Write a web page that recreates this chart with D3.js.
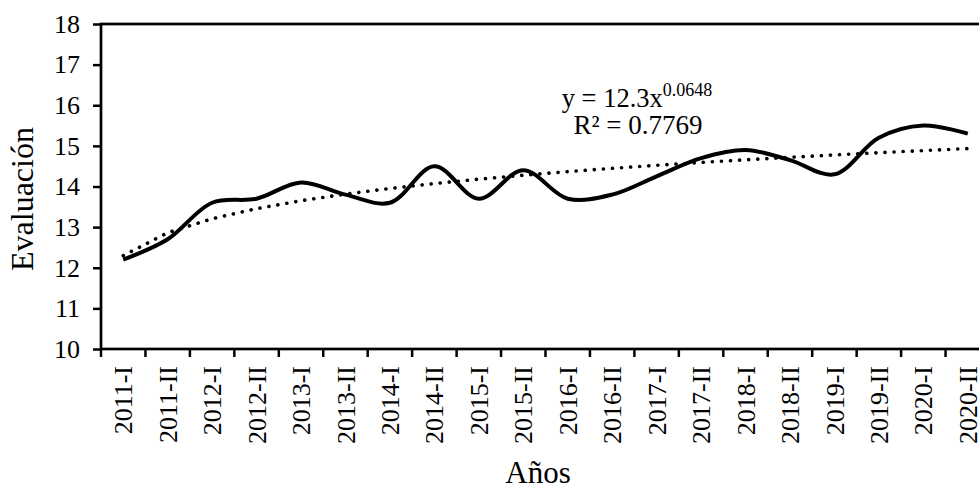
<!DOCTYPE html>
<html>
<head>
<meta charset="utf-8">
<script src="https://cdn.jsdelivr.net/npm/d3@7"></script>
<style>
  body { margin: 0; background: #fff; }
  svg { display: block; font-family: "Liberation Serif", "Times New Roman", serif; }
</style>
</head>
<body>
<svg id="chart" width="979" height="489"></svg>
<script>
//
// Data
//
const categories = ['2011-I', '2011-II', '2012-I', '2012-II', '2013-I', '2013-II', '2014-I', '2014-II',
  '2015-I', '2015-II', '2016-I', '2016-II', '2017-I', '2017-II', '2018-I', '2018-II',
  '2019-I', '2019-II', '2020-I', '2020-II'];
const evaluacion = [12.2, 12.7, 13.6, 13.7, 14.1, 13.8, 13.6, 14.5, 13.7, 14.4,
  13.7, 13.8, 14.25, 14.7, 14.9, 14.65, 14.3, 15.2, 15.5, 15.3];
const yTicks = [10, 11, 12, 13, 14, 15, 16, 17, 18];
const equationText = 'y = 12.3x';
const equationExp = '0.0648';
const r2Text = 'R\u00b2 = 0.7769';

//
// Layout
//
const svg = d3.select('#chart');
const plotLeft = 101, plotRight = 990, plotTop = 24, plotBottom = 349;
const ink = '#000';

const x = d3.scaleBand().domain(categories).range([plotLeft, plotRight]);
const y = d3.scaleLinear().domain([10, 18]).range([plotBottom, plotTop]);
const cx = d => x(d) + x.bandwidth() / 2;

// power trendline fitted on logs (y = a * n^b, n = 1..20)
const logs = evaluacion.map((v, i) => [Math.log(i + 1), Math.log(v)]);
const mx = d3.mean(logs, d => d[0]), my = d3.mean(logs, d => d[1]);
const b = d3.sum(logs, d => (d[0] - mx) * (d[1] - my)) / d3.sum(logs, d => (d[0] - mx) ** 2);
const a = Math.exp(my - b * mx);
const trend = categories.map((c, i) => ({c, v: a * Math.pow(i + 1, b)}));

//
// Axes
//
const yAxis = svg.append('g')
    .attr('transform', `translate(${plotLeft},0)`)
    .call(d3.axisLeft(y).tickValues(yTicks).tickSize(8).tickPadding(13).tickFormat(d3.format('d')));

const xAxis = svg.append('g')
    .attr('transform', `translate(0,${plotBottom})`)
    .call(d3.axisBottom(x).tickSize(0).tickPadding(0));

[yAxis, xAxis].forEach(g => {
  g.select('.domain').remove();
  g.selectAll('line').attr('stroke', ink).attr('stroke-width', 2.5);
  g.selectAll('text').attr('fill', ink).attr('font-size', 26)
      .attr('font-family', '"Liberation Serif", "Times New Roman", serif');
});

xAxis.selectAll('.tick text')
    .attr('text-anchor', 'end')
    .attr('dy', '0.35em')
    .attr('transform', 'translate(0,17) rotate(-90)')
    .attr('y', 0)
    .attr('x', 0);

// category boundary ticks
svg.append('g').selectAll('line')
    .data(categories.concat([null]))
    .join('line')
    .attr('x1', d => d === null ? plotRight : x(d))
    .attr('x2', d => d === null ? plotRight : x(d))
    .attr('y1', plotBottom)
    .attr('y2', plotBottom + 8)
    .attr('stroke', ink)
    .attr('stroke-width', 2.5);

// plot frame
svg.append('rect')
    .attr('x', plotLeft).attr('y', plotTop)
    .attr('width', plotRight - plotLeft).attr('height', plotBottom - plotTop)
    .attr('fill', 'none')
    .attr('stroke', ink)
    .attr('stroke-width', 2.7);

//
// Lines
//
const line = d3.line()
    .x(d => cx(d.c))
    .y(d => y(d.v));

svg.append('path')
    .datum(trend)
    .attr('d', line.curve(d3.curveLinear))
    .attr('fill', 'none')
    .attr('stroke', ink)
    .attr('stroke-width', 3.6)
    .attr('stroke-linecap', 'round')
    .attr('stroke-dasharray', '0.1 9');

svg.append('path')
    .datum(categories.map((c, i) => ({c, v: evaluacion[i]})))
    .attr('d', line.curve(d3.curveCatmullRom.alpha(0.5)))
    .attr('fill', 'none')
    .attr('stroke', ink)
    .attr('stroke-width', 4)
    .attr('stroke-linejoin', 'round');

//
// Labels
//
const eq = svg.append('text')
    .attr('x', 637).attr('y', 106.5)
    .attr('text-anchor', 'middle')
    .attr('font-size', 26.5)
    .attr('fill', ink);
eq.append('tspan').text(equationText);
eq.append('tspan').attr('font-size', 18).attr('dy', -11).text(equationExp);

svg.append('text')
    .attr('x', 638).attr('y', 133.5)
    .attr('text-anchor', 'middle')
    .attr('font-size', 27)
    .attr('fill', ink)
    .text(r2Text);

svg.append('text')
    .attr('x', 538).attr('y', 483)
    .attr('text-anchor', 'middle')
    .attr('font-size', 31)
    .attr('fill', ink)
    .text('Años');

svg.append('text')
    .attr('transform', 'translate(33,199) rotate(-90)')
    .attr('text-anchor', 'middle')
    .attr('font-size', 32)
    .attr('fill', ink)
    .text('Evaluación');
</script>
</body>
</html>
